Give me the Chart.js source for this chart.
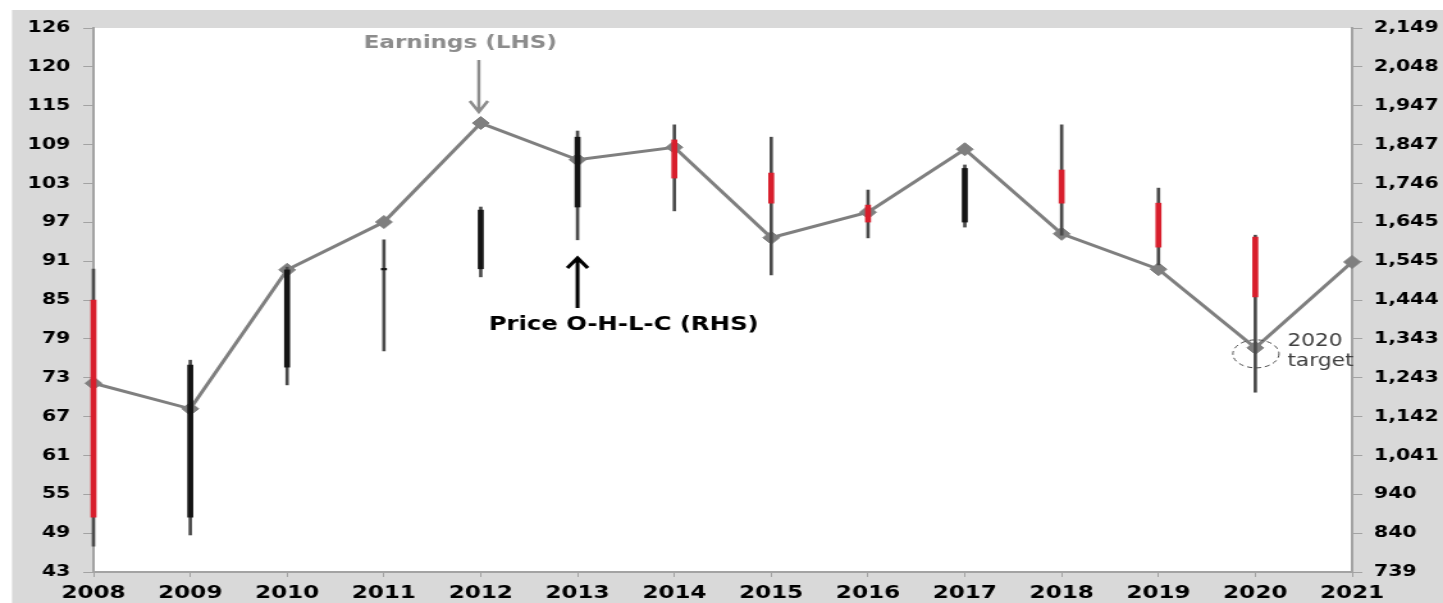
<!DOCTYPE html>
<html>
<head>
<meta charset="utf-8">
<title>Earnings vs Price</title>
<script src="https://cdn.jsdelivr.net/npm/chart.js@4.4.1/dist/chart.umd.min.js"></script>
<style>
  html, body { margin: 0; padding: 0; background: #fff; }
</style>
</head>
<body>
<!-- the source picture is stretched sideways, so the canvas is too -->
<canvas id="chart" width="1127" height="603" style="display:block;width:1443px;height:603px"></canvas>
<script>
// Data
var years = ['2008', '2009', '2010', '2011', '2012', '2013', '2014', '2015', '2016', '2017', '2018', '2019', '2020', '2021'];

// Earnings (LHS)
var earnings = [71.8, 67.9, 89.1, 96.4, 111.5, 105.9, 107.8, 94.0, 97.9, 107.5, 94.6, 89.2, 77.2, 90.3];

// Price O-H-L-C (RHS)
var priceOpen  = [1444, 881, 1270, 1522, 1525, 1685, 1859, 1773, 1690, 1646, 1781, 1695, 1607, null];
var priceHigh  = [1524, 1288, 1529, 1600, 1685, 1882, 1898, 1866, 1729, 1794, 1898, 1734, 1612, null];
var priceLow   = [806, 835, 1224, 1312, 1504, 1600, 1675, 1509, 1605, 1633, 1612, 1535, 1205, null];
var priceClose = [881, 1275, 1522, 1526, 1677, 1866, 1760, 1695, 1646, 1785, 1695, 1581, 1452, null];

// axis ticks
var leftMin = 43, leftMax = 126;
var leftTickLabels = ['43', '49', '55', '61', '67', '73', '79', '85', '91', '97', '103', '109', '115', '120', '126'];
var rightMin = 739, rightMax = 2149;
var rightTickLabels = ['739', '840', '940', '1,041', '1,142', '1,243', '1,343', '1,444', '1,545', '1,645', '1,746', '1,847', '1,947', '2,048', '2,149'];

var wicks = priceLow.map(function(l, i) {
  return l === null ? null : [l, priceHigh[i]];
});
var bodies = priceOpen.map(function(o, i) {
  return o === null ? null : [o, priceClose[i]];
});
var bodyColors = priceOpen.map(function(o, i) {
  return priceClose[i] >= o ? '#141414' : '#d81e2c';
});

var axisGray = '#a3a3a3';
var font = 'DejaVu Sans';

function evenTicks(min, max, labels) {
  return function(scale) {
    var step = (max - min) / (labels.length - 1);
    scale.ticks = labels.map(function(l, i) { return { value: min + i * step }; });
  };
}

// background: white edge, gray frame, white plot
var background = {
  id: 'background',
  beforeDraw: function(chart) {
    var ctx = chart.ctx, a = chart.chartArea;
    ctx.save();
    ctx.fillStyle = '#ffffff';
    ctx.fillRect(0, 0, chart.width, chart.height);
    ctx.fillStyle = '#d9d9d9';
    ctx.fillRect(9.4, 10, chart.width, chart.height);
    ctx.fillStyle = '#ffffff';
    ctx.fillRect(a.left, a.top, a.right - a.left, a.bottom - a.top);
    ctx.restore();
  }
};

function arrow(ctx, x, y1, y2, half, head) {
  var dir = y2 > y1 ? 1 : -1;
  ctx.beginPath();
  ctx.moveTo(x, y1);
  ctx.lineTo(x, y2);
  ctx.moveTo(x - half, y2 - dir * head);
  ctx.lineTo(x, y2);
  ctx.lineTo(x + half, y2 - dir * head);
  ctx.stroke();
}

// the labels, arrows and the 2020 target circle
var notes = {
  id: 'notes',
  afterDraw: function(chart) {
    var ctx = chart.ctx;
    var xs = chart.scales.x, ys = chart.scales.y;
    var x2012 = xs.getPixelForValue(years.indexOf('2012'));
    var x2013 = xs.getPixelForValue(years.indexOf('2013'));
    var i2020 = years.indexOf('2020');
    var x2020 = xs.getPixelForValue(i2020);
    var y2020 = ys.getPixelForValue(earnings[i2020]);

    ctx.save();
    ctx.textBaseline = 'middle';

    // Earnings label + arrow
    ctx.fillStyle = '#8c8c8c';
    ctx.font = 'bold 18px "' + font + '"';
    ctx.textAlign = 'center';
    ctx.fillText('Earnings (LHS)', x2012 - 16, 43);
    ctx.strokeStyle = '#8c8c8c';
    ctx.lineWidth = 2.5;
    arrow(ctx, x2012 - 1.5, 60, 112, 7, 11);

    // Price label + arrow
    ctx.strokeStyle = '#000000';
    ctx.lineWidth = 3;
    arrow(ctx, x2013, 308, 258, 8, 10);
    ctx.fillStyle = '#000000';
    ctx.font = 'bold 19px "' + font + '"';
    ctx.fillText('Price O-H-L-C (RHS)', x2013 + 36, 325);

    // 2020 target
    ctx.strokeStyle = '#4d4d4d';
    ctx.lineWidth = 1;
    ctx.setLineDash([4, 3]);
    ctx.beginPath();
    ctx.ellipse(x2020 + 0.5, y2020 + 6, 18, 14, 0, 0, Math.PI * 2);
    ctx.stroke();
    ctx.setLineDash([]);
    ctx.fillStyle = '#404040';
    ctx.font = '17px "' + font + '"';
    ctx.textAlign = 'left';
    ctx.fillText('2020', x2020 + 25, 342);
    ctx.fillText('target', x2020 + 25, 362);
    ctx.restore();
  }
};

var ctx = document.getElementById('chart').getContext('2d');
var myChart = new Chart(ctx, {
  type: 'bar',
  data: {
    labels: years,
    datasets: [{
      type: 'line',
      label: 'Earnings (LHS)',
      data: earnings,
      yAxisID: 'y',
      borderColor: '#7f7f7f',
      borderWidth: 3,
      pointStyle: 'rectRot',
      pointRadius: 6.5,
      pointBackgroundColor: '#7f7f7f',
      pointBorderColor: '#7f7f7f',
      pointBorderWidth: 1,
      tension: 0,
      clip: false,
      order: 3
    },
    {
      label: 'High-Low',
      data: wicks,
      yAxisID: 'y1',
      backgroundColor: '#4a4a4a',
      barThickness: 2,
      grouped: false,
      clip: false,
      order: 2
    },
    {
      label: 'Open-Close',
      data: bodies,
      yAxisID: 'y1',
      backgroundColor: bodyColors,
      barThickness: 4,
      grouped: false,
      clip: false,
      order: 1
    }]
  },
  options: {
    responsive: false,
    devicePixelRatio: 1,
    animation: false,
    layout: { padding: { top: 28, left: 0, right: 0, bottom: 0 } },
    plugins: {
      legend: { display: false },
      tooltip: { enabled: false }
    },
    scales: {
      x: {
        offset: false,
        border: { color: axisGray, width: 2 },
        grid: { offset: false, drawOnChartArea: false, color: axisGray, tickLength: 5 },
        ticks: {
          color: '#000000',
          font: { family: font, weight: 'bold', size: 18 },
          padding: 6,
          autoSkip: false,
          maxRotation: 0
        },
        afterFit: function(scale) { scale.height = 31; }
      },
      y: {
        position: 'left',
        min: leftMin,
        max: leftMax,
        border: { color: axisGray, width: 2 },
        grid: { drawOnChartArea: false, color: axisGray, tickLength: 8 },
        afterBuildTicks: evenTicks(leftMin, leftMax, leftTickLabels),
        ticks: {
          color: '#000000',
          font: { family: font, weight: 'bold', size: 16 },
          padding: 10,
          autoSkip: false,
          callback: function(value, index) { return leftTickLabels[index]; }
        },
        afterFit: function(scale) { scale.width = 73; }
      },
      y1: {
        position: 'right',
        min: rightMin,
        max: rightMax,
        border: { color: axisGray, width: 2 },
        grid: { drawOnChartArea: false, color: axisGray, tickLength: 8 },
        afterBuildTicks: evenTicks(rightMin, rightMax, rightTickLabels),
        ticks: {
          color: '#000000',
          font: { family: font, weight: 'bold', size: 16 },
          padding: 9,
          autoSkip: false,
          callback: function(value, index) { return rightTickLabels[index]; }
        },
        afterFit: function(scale) { scale.width = 71; }
      }
    }
  },
  plugins: [background, notes]
});
</script>
</body>
</html>
